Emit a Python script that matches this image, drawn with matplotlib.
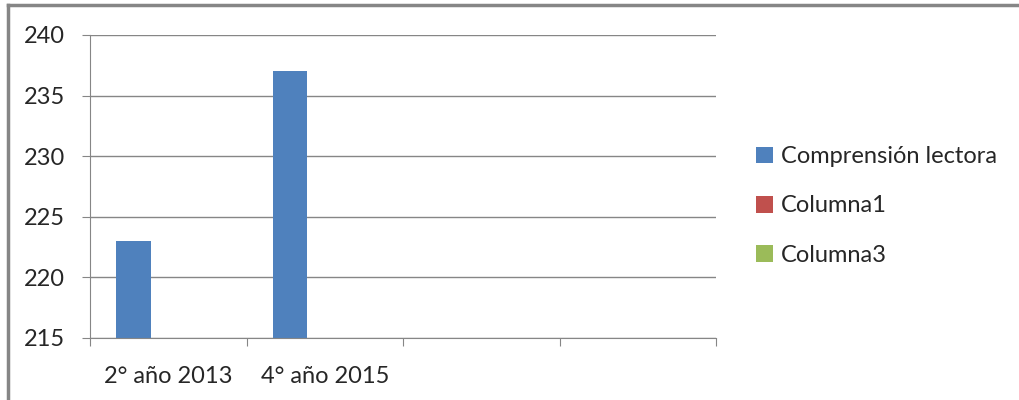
import matplotlib.pyplot as plt
import numpy as np
from matplotlib.patches import Patch
from matplotlib.lines import Line2D

plt.rcParams['font.family'] = ['Lato', 'DejaVu Sans']
plt.rcParams['font.size'] = 17

categories = ['2° año 2013', '4° año 2015', '', '']
series_names = ['Comprensión lectora', 'Columna1', 'Columna3']
comprension = [223, 237, np.nan, np.nan]
columna1 = [np.nan, np.nan, np.nan, np.nan]
columna3 = [np.nan, np.nan, np.nan, np.nan]
colors = ['#4F81BD', '#C0504D', '#9BBB59']
text_color = '#262626'

fig = plt.figure(figsize=(10.2, 4), dpi=100)
ax = fig.add_axes([90 / 1020, 62 / 400, 626 / 1020, 303 / 400])

ind = np.arange(len(categories))
width = 1 / 4.5
for j, vals in enumerate([comprension, columna1, columna3]):
    ax.bar(ind + (j - 1) * width, np.nan_to_num(np.array(vals, dtype=float) - 215),
           width, bottom=215, color=colors[j], edgecolor='none')

ax.set_xlim(-0.5, 3.5)
ax.set_ylim(215, 240)
ax.set_yticks(np.arange(215, 241, 5))
ax.yaxis.grid(True, color='#868686', linewidth=1)
ax.set_axisbelow(True)
for s in ['top', 'right']:
    ax.spines[s].set_visible(False)
ax.spines['left'].set_color('#868686')
ax.spines['bottom'].set_color('#868686')
ax.set_xticks(np.arange(-0.5, 4, 1))
ax.set_xticklabels([])
ax.set_xticks(ind, categories, minor=True)
ax.tick_params(axis='x', which='major', length=6, color='#868686', direction='out')
ax.tick_params(axis='x', which='minor', length=0, pad=20, labelcolor=text_color)
ax.tick_params(axis='y', length=6, color='#868686', pad=12, labelcolor=text_color)

handles = [Patch(facecolor=c, edgecolor='none') for c in colors]
leg = fig.legend(handles, series_names, loc='center left',
                 bbox_to_anchor=(735 / 1020, 1 - 206 / 400),
                 frameon=False, handlelength=0.7, handleheight=0.7, handletextpad=0.35,
                 labelspacing=1.2)
for t in leg.get_texts():
    t.set_color(text_color)

# outer frame of the chart area
fig.add_artist(Line2D([8 / 1020, 8 / 1020], [0, 1 - 5 / 400], color='#868686', lw=2.5, transform=fig.transFigure))
fig.add_artist(Line2D([8 / 1020, 1], [1 - 5 / 400, 1 - 5 / 400], color='#868686', lw=2.5, transform=fig.transFigure))

fig.savefig('out.png', dpi=100)
